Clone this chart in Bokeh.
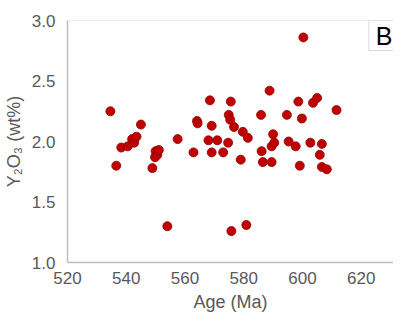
from bokeh.plotting import figure
from bokeh.models import ColumnDataSource, FixedTicker, PrintfTickFormatter, Label, Span
from bokeh.embed import file_html
from bokeh.resources import INLINE

# Age (Ma)
age = [534.6, 536.6, 538.3, 540.5, 542.0, 542.7, 543.5, 545.0, 548.9, 549.8,
       550.0, 550.6, 551.1, 554.0, 557.5, 562.9, 564.1, 564.3, 568.5, 568.0,
       569.1, 569.1, 571.0, 573.0, 574.7, 574.9, 575.4, 575.6, 575.8, 576.7,
       579.0, 579.7, 580.9, 581.4, 585.9, 586.1, 586.5, 588.8, 589.5, 589.5,
       590.0, 590.4, 594.7, 595.3, 597.7, 598.6, 599.1, 599.8, 600.3, 602.7,
       603.6, 605.0, 605.9, 606.6, 606.6, 608.3, 611.6]
# Y2O3 (wt%)
y2o3 = [2.25, 1.80, 1.95, 1.96, 2.02, 1.99, 2.04, 2.14, 1.78, 1.87,
        1.92, 1.89, 1.93, 1.30, 2.02, 1.91, 2.17, 2.15, 2.34, 2.01,
        2.13, 1.91, 2.01, 1.91, 1.99, 2.22, 2.18, 2.33, 1.26, 2.12,
        1.85, 2.08, 1.31, 2.03, 2.22, 1.92, 1.83, 2.42, 1.83, 1.96,
        2.06, 1.99, 2.22, 2.00, 1.96, 2.33, 1.80, 2.19, 2.86, 1.99,
        2.32, 2.36, 1.89, 1.98, 1.79, 1.77, 2.26]

x_ticks = [520, 540, 560, 580, 600, 620]
y_ticks = [1.0, 1.5, 2.0, 2.5, 3.0]
panel_tag = "B"

src = ColumnDataSource(dict(age=age, y=y2o3))

p = figure(width=393, height=316, output_backend="svg", toolbar_location=None,
           x_range=(520, 631.0), y_range=(1.0, 3.0),
           min_border_left=63, min_border_right=0, min_border_top=20, min_border_bottom=54)

p.scatter("age", "y", source=src, size=9, fill_color="#C00000", line_color="#8E0000", line_width=0.8)

FONT = "Liberation Sans"
GREY = "#595959"
AX = "#BFBFBF"

p.xgrid.visible = False
p.ygrid.visible = False
p.outline_line_color = None
p.background_fill_color = "white"
p.border_fill_color = "white"

p.add_layout(Span(location=3.0, dimension="width", line_color="#D9D9D9", line_width=1))

for ax in (p.xaxis[0], p.yaxis[0]):
    ax.axis_line_color = AX
    ax.axis_line_width = 1.5
    ax.major_tick_line_color = None
    ax.minor_tick_line_color = None
    ax.major_tick_out = 0
    ax.major_tick_in = 0
    ax.major_label_text_font = FONT
    ax.major_label_text_font_size = "17px"
    ax.major_label_text_color = GREY
    ax.axis_label_text_font = FONT
    ax.axis_label_text_font_size = "18px"
    ax.axis_label_text_color = GREY
    ax.axis_label_text_font_style = "normal"

p.xaxis.ticker = FixedTicker(ticks=x_ticks)
p.yaxis.ticker = FixedTicker(ticks=y_ticks)
p.yaxis.formatter = PrintfTickFormatter(format="%.1f")
p.xaxis.major_label_standoff = 9
p.yaxis.major_label_standoff = 12
p.xaxis.axis_label = "Age (Ma)"
p.yaxis.axis_label = "Y\u2082O\u2083 (wt%)"
p.xaxis.axis_label_standoff = 5
p.yaxis.axis_label_standoff = 5

p.add_layout(Label(x=622.6, y=3.0, text=panel_tag, anchor="top_left",
                   text_font=FONT, text_font_size="25px", text_color="black",
                   border_line_color="#D9D9D9", border_line_width=1,
                   background_fill_color="white",
                   padding=dict(left=7, right=7, top=1, bottom=1)))

open("out.html", "w").write(file_html(p, INLINE))
